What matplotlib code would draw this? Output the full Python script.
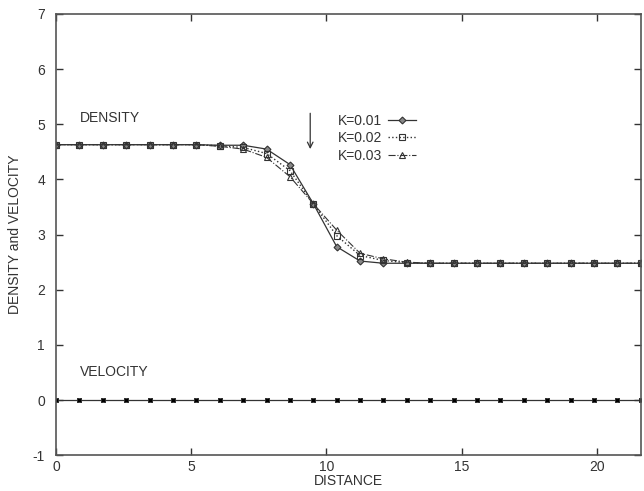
import numpy as np
import matplotlib
matplotlib.use('Agg')
import matplotlib.pyplot as plt

plt.rcParams['font.family'] = ['Liberation Sans', 'DejaVu Sans']
plt.rcParams['axes.unicode_minus'] = False

# grid points along the distance axis
distance = [0.0, 0.865, 1.73, 2.595, 3.46, 4.325, 5.19, 6.055, 6.92, 7.785,
            8.65, 9.515, 10.38, 11.245, 12.11, 12.975, 13.84, 14.705, 15.57,
            16.435, 17.3, 18.165, 19.03, 19.895, 20.76, 21.625]

dens_k01 = [4.63, 4.63, 4.63, 4.63, 4.63, 4.63, 4.63, 4.62, 4.62, 4.55,
            4.27, 3.56, 2.78, 2.52, 2.48, 2.48, 2.48, 2.48, 2.48,
            2.48, 2.48, 2.48, 2.48, 2.48, 2.48, 2.48]
dens_k02 = [4.63, 4.63, 4.63, 4.63, 4.63, 4.63, 4.63, 4.61, 4.58, 4.47,
            4.16, 3.56, 2.98, 2.62, 2.53, 2.49, 2.48, 2.48, 2.48,
            2.48, 2.48, 2.48, 2.48, 2.48, 2.48, 2.48]
dens_k03 = [4.63, 4.63, 4.63, 4.63, 4.63, 4.63, 4.63, 4.60, 4.55, 4.40,
            4.05, 3.56, 3.08, 2.66, 2.56, 2.50, 2.48, 2.48, 2.48,
            2.48, 2.48, 2.48, 2.48, 2.48, 2.48, 2.48]
velocity = [0.0] * 26

labels = ['K=0.01', 'K=0.02', 'K=0.03']
c = '#333333'

fig = plt.figure(figsize=(6.44, 4.91), dpi=100)
ax = fig.add_axes([0.087, 0.073, 0.908, 0.8985])

ax.plot(distance, dens_k01, '-', color=c, lw=0.9, marker='D', ms=3.5,
        mfc='#888888', mec=c, mew=0.8, label=labels[0])
ax.plot(distance, dens_k02, ':', color=c, lw=1.0, marker='s', ms=4.5,
        mfc='none', mec=c, mew=0.8, label=labels[1])
ax.plot(distance, dens_k03, '-.', color=c, lw=0.8, marker='^', ms=4.5,
        mfc='none', mec=c, mew=0.8, label=labels[2])

ax.plot(distance, velocity, '-', color=c, lw=0.9, marker='s', ms=3.5,
        mfc='black', mec=c, mew=0.5)
ax.plot(distance, velocity, 'x', color='black', ms=3.5, mew=0.8)

ax.set_xlim(0, 21.625)
ax.set_ylim(-1, 7)
ax.set_xticks([0, 5, 10, 15, 20])
ax.set_yticks(range(-1, 8))
ax.tick_params(direction='in', top=True, right=True, length=5,
               labelsize=10, colors=c, width=1)
ax.tick_params(axis='y', pad=8)
for s in ax.spines.values():
    s.set_color('#555555')
    s.set_linewidth(1.2)

ax.set_xlabel('DISTANCE', fontsize=10, color=c, labelpad=0)
ax.set_ylabel('DENSITY and VELOCITY', fontsize=10, color=c, labelpad=8)

ax.text(0.9, 5.12, 'DENSITY', fontsize=10, color=c, va='center')
ax.text(0.9, 0.5, 'VELOCITY', fontsize=10, color=c, va='center')
ax.annotate('', xy=(9.4, 4.5), xytext=(9.4, 5.25),
            arrowprops=dict(arrowstyle='->', color=c, lw=0.9))

leg = ax.legend(loc='upper left', bbox_to_anchor=(0.47, 0.79), frameon=False,
                fontsize=10, markerfirst=False, handlelength=2.0,
                labelspacing=0.25, handletextpad=0.4, borderpad=0)
for t in leg.get_texts():
    t.set_color(c)

fig.savefig('out.png', dpi=100)
